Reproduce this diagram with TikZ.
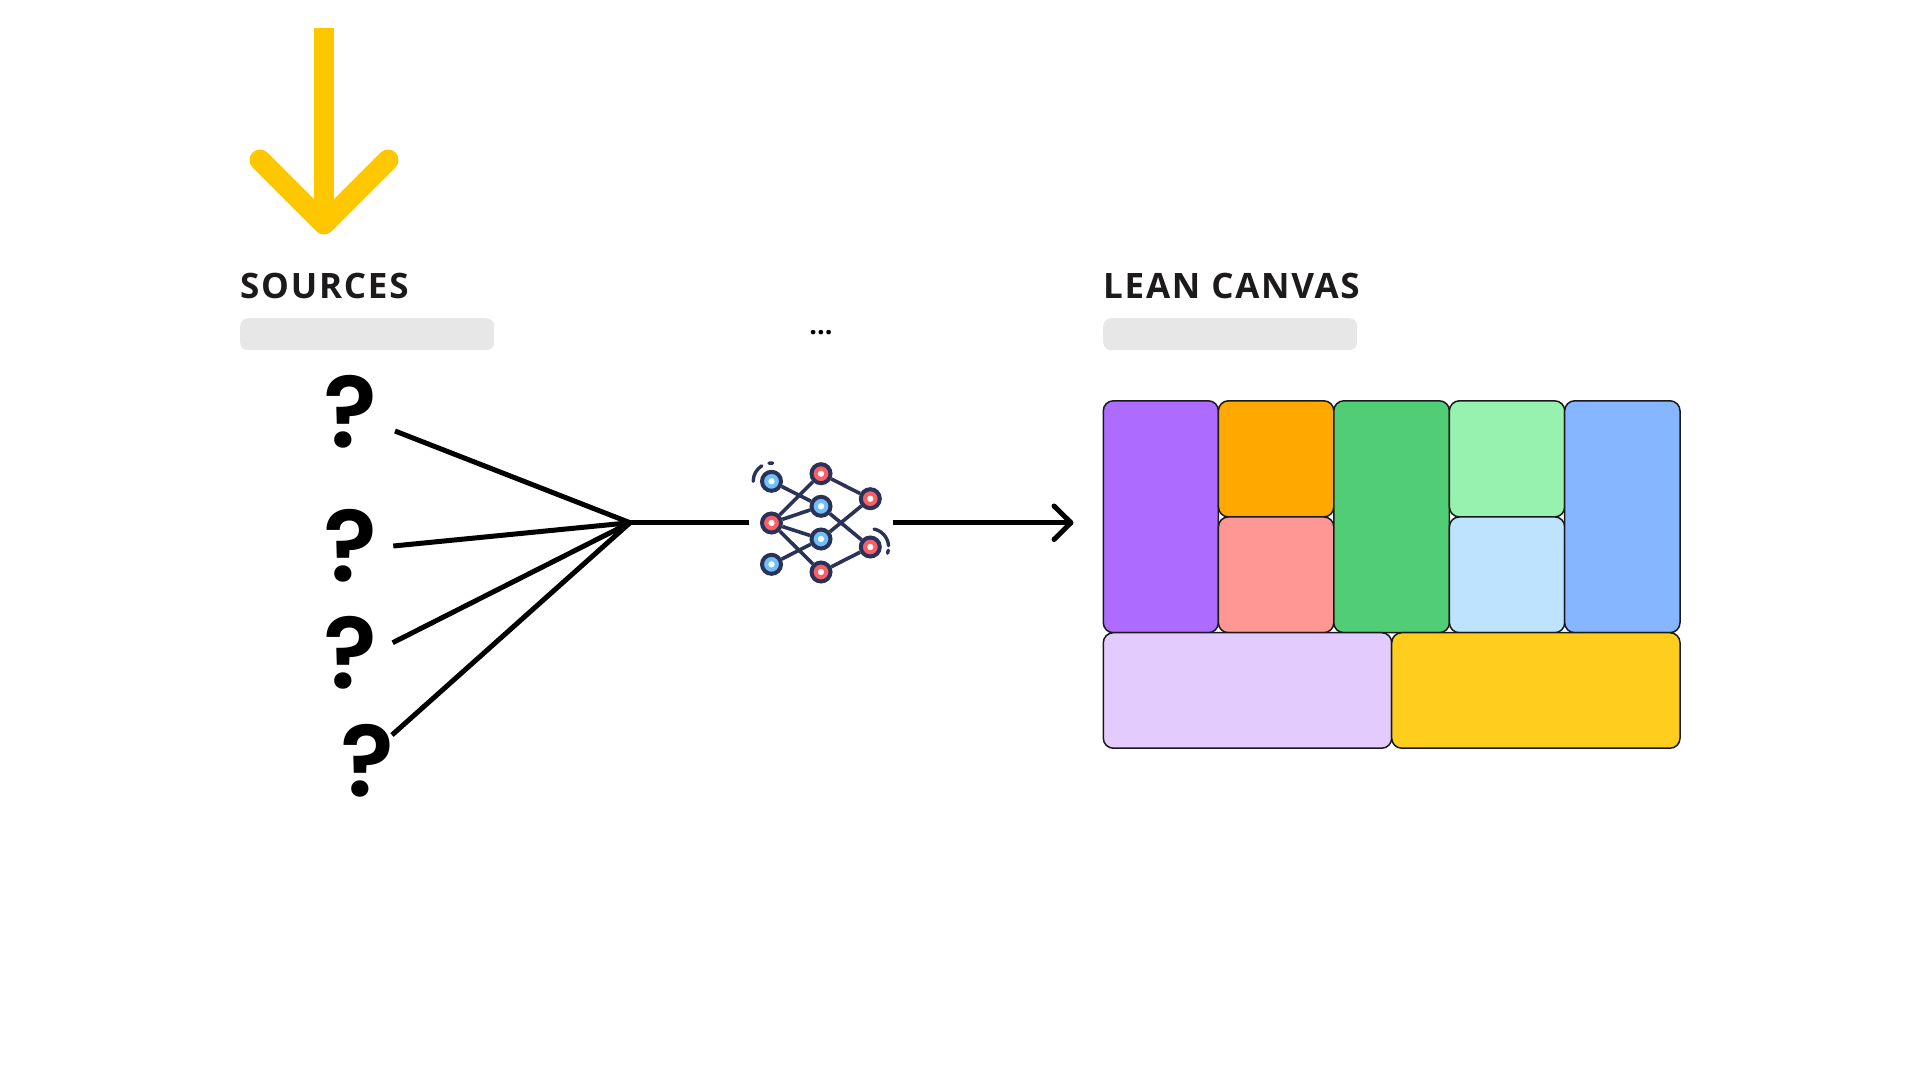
\documentclass[tikz,border=0pt]{standalone}
\usepackage{fontspec}
\usetikzlibrary{calc}
\setmainfont{Open Sans}
\newfontfamily\headfont[LetterSpace=5]{Open Sans Bold}
\newfontfamily\dotfont{Open Sans Bold}
\newfontfamily\qfont{Poppins SemiBold}
\definecolor{ink}{HTML}{1C1A1A}
\definecolor{barg}{HTML}{E7E7E7}
\definecolor{yel}{HTML}{FFC700}
\definecolor{net}{HTML}{2A3257}
\definecolor{nred}{HTML}{FB5E66}
\definecolor{nblue}{HTML}{6FBFFA}
\tikzset{
  head/.style={font=\headfont\fontsize{35}{40}\selectfont,text=ink,anchor=base west,inner sep=0pt},
  bar/.style={fill=barg,rounded corners=8pt,minimum width=254pt,minimum height=32pt,inner sep=0pt,anchor=north west},
  qm/.style={font=\qfont\fontsize{100}{100}\selectfont,text=black,anchor=base,inner sep=0pt},
  wire/.style={line width=5pt,black},
  wirer/.style={line width=5pt,black,line cap=round,line join=round},
  yarrow/.style={line width=20pt,yel},
  cell/.style={draw=black!90,line width=1.5pt,rounded corners=10pt,inner sep=0pt,outer sep=0pt,anchor=north west},
  nd/.style={circle,draw=net,line width=4pt,minimum size=19pt,inner sep=0pt},
  link/.style={draw=net,line width=3.6pt},
  wave/.style={draw=net,line width=3.4pt,line cap=round},
  pip/.style={circle,fill=white,minimum size=6.3pt,inner sep=0pt},
}
\newcommand{\cellbox}[7]{%
  \definecolor{tmpc}{HTML}{#7}%
  \node[cell,fill=tmpc,minimum width=#5pt,minimum height=#6pt] (#1) at (#3,#4) {};}
\begin{document}
\begin{tikzpicture}[x=1pt,y=-1pt]
\useasboundingbox (0,0) rectangle (1920,1080);
% yellow arrow
\coordinate (ys) at (324,28);
\coordinate (yt) at (324,224);
\coordinate (yl) at (260,160);
\coordinate (yr) at (388,160);
\draw[yarrow] (ys) -- (yt);
\draw[yarrow,line width=21pt,line cap=round,line join=round] (yl) -- (yt) -- (yr);
% headings
\node[head] (h1) at (240,298) {SOURCES};
\node[head] (h2) at (1103,298) {LEAN CANVAS};
\node[bar] (b1) at (240,318) {};
\node[bar] (b2) at (1103,318) {};
\node[font=\dotfont\fontsize{27}{30}\selectfont,text=black,inner sep=0pt,anchor=base] (dots) at (821,334) {...};
% question marks
\node[qm] (q1) at (350.7,447) {?};
\node[qm] (q2) at (350.7,581) {?};
\node[qm] (q3) at (350.7,688) {?};
\node[qm] (q4) at (367.7,796) {?};
% fan
\coordinate (hub) at (630,522.7);
\coordinate (s1) at (395,431);
\coordinate (s2) at (393.3,546);
\coordinate (s3) at (392.7,642.7);
\coordinate (s4) at (392,735);
\coordinate (hubr) at (749,522.7);
\draw[wire] (s1) -- (hub);
\draw[wire] (s2) -- (hub);
\draw[wire] (s3) -- (hub);
\draw[wire] (s4) -- (hub);
\draw[wire] (hub) -- (hubr);
% out arrow
\coordinate (os) at (893,522.7);
\coordinate (ot) at (1071,522.7);
\coordinate (oa) at (1054,506);
\coordinate (ob) at (1054,539.5);
\draw[wire] (os) -- (ot);
\draw[wirer] (oa) -- (ot) -- (ob);
% network
\node[nd,fill=nblue] (n1) at (771.5,481.3) {};
\node[nd,fill=nred] (n2) at (771.5,523) {};
\node[nd,fill=nblue] (n3) at (771.5,564.3) {};
\node[nd,fill=nred] (n4) at (821,473.7) {};
\node[nd,fill=nblue] (n5) at (821,506.3) {};
\node[nd,fill=nblue] (n6) at (821,539) {};
\node[nd,fill=nred] (n7) at (821,572) {};
\node[nd,fill=nred] (n8) at (870.3,498.7) {};
\node[nd,fill=nred] (n9) at (870.3,547) {};
\foreach \a/\b in {n1/n5,n2/n4,n2/n5,n2/n6,n2/n7,n3/n6,n4/n8,n5/n9,n6/n8,n7/n9}
  \draw[link] (\a) -- (\b);
\foreach \a in {n1,n2,n3,n4,n5,n6,n7,n8,n9}
  \node[pip] at (\a) {};
\draw[wave] ($(n1)+(-180:18.3)$) arc[start angle=-180,end angle=-122,radius=18.3];
\draw[wave] ($(n1)+(-98:18.3)$) arc[start angle=-98,end angle=-86,radius=18.3];
\draw[wave] ($(n9)+(-78:18.3)$) arc[start angle=-78,end angle=-4,radius=18.3];
\draw[wave] ($(n9)+(10:18.3)$) arc[start angle=10,end angle=20,radius=18.3];
% canvas
\cellbox{c1}{}{1103.3}{400.8}{115.1}{231.9}{AD6CFF}
\cellbox{c2}{}{1218.4}{400.8}{115.4}{116.1}{FFA800}
\cellbox{c3}{}{1218.4}{516.9}{115.4}{115.8}{FF9894}
\cellbox{c4}{}{1333.8}{400.8}{115.6}{231.9}{51CD75}
\cellbox{c5}{}{1449.4}{400.8}{115.3}{116.1}{96F2AE}
\cellbox{c6}{}{1449.4}{516.9}{115.3}{115.8}{BDE3FF}
\cellbox{c7}{}{1564.7}{400.8}{115.3}{231.9}{85B6FF}
\cellbox{c8}{}{1103.3}{632.7}{288.4}{115.5}{E3CCFD}
\cellbox{c9}{}{1391.7}{632.7}{288.3}{115.5}{FFCD1E}
\end{tikzpicture}
\end{document}
